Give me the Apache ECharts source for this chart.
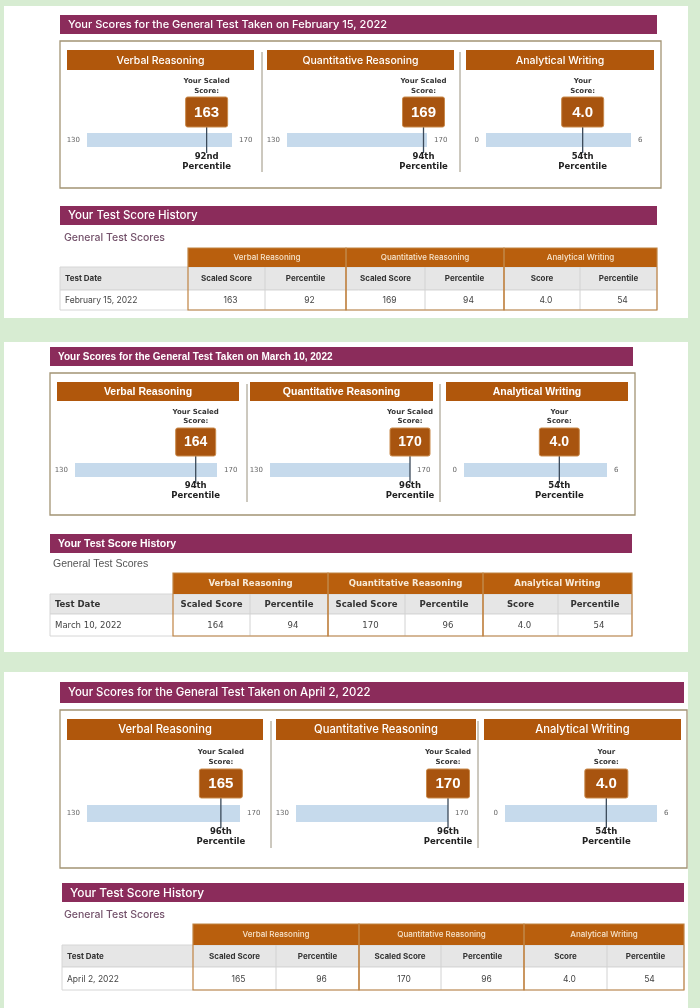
<!DOCTYPE html>
<html>
<head>
<meta charset="utf-8">
<script src="https://cdn.jsdelivr.net/npm/echarts@6/dist/echarts.min.js"></script>
<style>
  html, body { margin: 0; padding: 0; background: #d7ecd2; }
  #chart { width: 700px; height: 1008px; }
</style>
</head>
<body>
<div id="chart"></div>
<script>
// ---- data ----
const testDates = ['February 15, 2022', 'March 10, 2022', 'April 2, 2022']
const sections = ['Verbal Reasoning', 'Quantitative Reasoning', 'Analytical Writing']
const scoreMin = [130, 130, 0]
const scoreMax = [170, 170, 6]
const verbalScores = [163, 164, 165]
const verbalPercentiles = [92, 94, 96]
const quantScores = [169, 170, 170]
const quantPercentiles = [94, 96, 96]
const writingScores = [4.0, 4.0, 4.0]
const writingPercentiles = [54, 54, 54]
const scoreCaptions = ['Your Scaled\nScore:', 'Your Scaled\nScore:', 'Your\nScore:']
const subHeaders = ['Scaled Score', 'Percentile', 'Scaled Score', 'Percentile', 'Score', 'Percentile']

// ---- layout of the three report cards ----
const layouts = [
  {
    card: [4, 6, 684, 312], title: [60, 15, 597, 19], box: [60, 41, 601, 147],
    heads: [[67, 254], [267, 454], [466, 654]], headY: [50, 20], dividers: [262, 460], divY: [52, 172],
    bars: [[87, 232], [287, 427], [486, 631]], barY: [133, 14], markBox: [97, 30, 42], capY: 76, capLH: 10, pctY: 152,
    hist: [60, 206, 597, 19], subY: 238, subX: 64, titleSize: 11, headSize: 10.5,
    cols: [60, 188, 265, 346, 425, 504, 580, 657], rows: [248, 267, 290, 310], style: 'A'
  },
  {
    card: [4, 342, 684, 310], title: [50, 347, 583, 19], box: [50, 373, 585, 142],
    heads: [[57, 239], [250, 433], [446, 628]], headY: [382, 19], dividers: [247, 440], divY: [384, 502],
    bars: [[75, 217], [270, 410], [464, 607]], barY: [463, 14], markBox: [428, 28, 40], capY: 407.5, capLH: 9, pctY: 481,
    hist: [50, 534, 582, 19], subY: 564, subX: 53, titleSize: 10, headSize: 10.5,
    cols: [50, 173, 250, 328, 405, 483, 558, 632], rows: [573, 594, 614, 636], style: 'B'
  },
  {
    card: [4, 672, 684, 336], title: [60, 682, 624, 21], box: [60, 710, 627, 158],
    heads: [[67, 263], [276, 476], [484, 681]], headY: [719, 21], dividers: [271, 478], divY: [721, 848],
    bars: [[87, 240], [296, 448], [505, 657]], barY: [805, 17], markBox: [769, 29, 43], capY: 747, capLH: 10, pctY: 827,
    hist: [62, 883, 622, 19], subY: 915, subX: 64, titleSize: 11.4, headSize: 11.2,
    cols: [62, 193, 276, 359, 441, 524, 607, 684], rows: [924, 945, 967, 990], style: 'A'
  }
]

const fonts = {
  A: { family: 'Inter', titleWeight: 500, headWeight: 500, scoreSize: 15,
       table: 'Inter', thSize: 8, shSize: 8, tdSize: 8.5, subColor: '#74526b', subSize: 10.5, thColor: '#f6e4cc' },
  B: { family: 'Liberation Sans', titleWeight: 'bold', headWeight: 'bold', scoreSize: 14,
       table: '"Liberation Sans Narrow", "DejaVu Sans Condensed", "Liberation Sans"', thSize: 9.5, shSize: 9.5, tdSize: 9.5,
       subColor: '#555', subSize: 10.5, thColor: '#f7ead8' }
}

const ordinal = (n) => {
  const m = n % 100
  if (m >= 11 && m <= 13) return n + 'th'
  return n + ({ 1: 'st', 2: 'nd', 3: 'rd' }[n % 10] || 'th')
}

const scoresFor = (i) => [verbalScores[i], quantScores[i], writingScores[i]]
const percentilesFor = (i) => [verbalPercentiles[i], quantPercentiles[i], writingPercentiles[i]]

const rect = (x, y, w, h, style, z) => ({ type: 'rect', z: z || 1, shape: { x, y, width: w, height: h }, style })
const text = (x, y, str, o) => ({
  type: 'text', x, y, z: 6,
  style: {
    text: str, fill: o.fill || '#333', fontSize: o.size || 9, fontWeight: o.weight || 'normal',
    fontFamily: o.family || 'Inter', align: o.align || 'left', verticalAlign: o.va || 'middle'
  }
})

const graphic = []
layouts.forEach((L, p) => {
  const F = fonts[L.style]
  graphic.push(rect(L.card[0], L.card[1], L.card[2], L.card[3], { fill: '#fff' }, 0))
  // title bar
  graphic.push(rect(L.title[0], L.title[1], L.title[2], L.title[3], { fill: '#8b2c5b' }))
  graphic.push(text(L.title[0] + 8, L.title[1] + L.title[3] / 2 + 0.5,
    'Your Scores for the General Test Taken on ' + testDates[p],
    { fill: '#fff', size: L.titleSize, weight: F.titleWeight, family: F.family }))
  // outer box
  graphic.push(rect(L.box[0], L.box[1], L.box[2], L.box[3], { fill: 'none', stroke: '#a39474', lineWidth: 1.3 }, 2))
  // section headers
  L.heads.forEach((h, s) => {
    graphic.push(rect(h[0], L.headY[0], h[1] - h[0], L.headY[1], { fill: '#b0570c' }, 2))
    graphic.push(text((h[0] + h[1]) / 2, L.headY[0] + L.headY[1] / 2 + 0.5, sections[s],
      { fill: '#fff', size: L.headSize, weight: F.headWeight, family: F.family, align: 'center' }))
  })
  L.dividers.forEach((d) => {
    graphic.push({ type: 'line', z: 2, shape: { x1: d, y1: L.divY[0], x2: d, y2: L.divY[1] }, style: { stroke: '#9a927f', lineWidth: 1 } })
  })
  // history
  graphic.push(rect(L.hist[0], L.hist[1], L.hist[2], L.hist[3], { fill: '#8b2c5b' }))
  graphic.push(text(L.hist[0] + 8, L.hist[1] + L.hist[3] / 2 + 0.5, 'Your Test Score History',
    { fill: '#fff', size: L.titleSize + 0.5, weight: F.titleWeight, family: F.family }))
  graphic.push(text(L.subX, L.subY, 'General Test Scores',
    { fill: F.subColor, size: F.subSize, weight: L.style === 'A' ? 500 : 'normal', family: F.family }))

  const c = L.cols
  const r = L.rows
  // subheader + data rows backgrounds
  graphic.push(rect(c[0], r[1], c[7] - c[0], r[2] - r[1], { fill: '#e6e6e6', stroke: '#d6d6d6', lineWidth: 1 }, 2))
  graphic.push(rect(c[0], r[2], c[7] - c[0], r[3] - r[2], { fill: '#fff', stroke: '#d6d6d6', lineWidth: 1 }, 2))
  for (let k = 2; k <= 6; k += 2) {
    graphic.push({ type: 'line', z: 3, shape: { x1: c[k], y1: r[1], x2: c[k], y2: r[3] }, style: { stroke: '#d2d2d2', lineWidth: 1 } })
  }
  // group headers + outlines
  for (let g = 0; g < 3; g++) {
    const x0 = c[1 + g * 2], x1 = c[3 + g * 2]
    graphic.push(rect(x0, r[0], x1 - x0, r[1] - r[0], { fill: '#b95f0d' }, 3))
    graphic.push(rect(x0, r[0], x1 - x0, r[3] - r[0], { fill: 'none', stroke: '#c08443', lineWidth: 1.2 }, 4))
    graphic.push(text((x0 + x1) / 2, (r[0] + r[1]) / 2 + 0.5, sections[g],
      { fill: F.thColor, size: F.thSize, weight: L.style === 'A' ? 500 : 'bold', family: F.table, align: 'center' }))
  }
  graphic.push(text(c[0] + 5, (r[1] + r[2]) / 2 + 0.5, 'Test Date',
    { fill: '#333', size: F.shSize, weight: 'bold', family: F.table }))
  subHeaders.forEach((h, k) => {
    graphic.push(text((c[k + 1] + c[k + 2]) / 2, (r[1] + r[2]) / 2 + 0.5, h,
      { fill: '#333', size: F.shSize, weight: 'bold', family: F.table, align: 'center' }))
  })
  graphic.push(text(c[0] + 5, (r[2] + r[3]) / 2 + 0.5, testDates[p],
    { fill: '#444', size: F.tdSize, family: F.table }))
  const vals = [verbalScores[p], verbalPercentiles[p], quantScores[p], quantPercentiles[p],
    writingScores[p].toFixed(1), writingPercentiles[p]]
  vals.forEach((v, k) => {
    graphic.push(text((c[k + 1] + c[k + 2]) / 2 + 4, (r[2] + r[3]) / 2 + 0.5, String(v),
      { fill: '#444', size: F.tdSize, family: F.table, align: 'center' }))
  })
})

// ---- score bars: one grid per section, drawn through the axis scales ----
const grids = [], xAxes = [], yAxes = [], series = []
layouts.forEach((L, p) => {
  const F = fonts[L.style]
  const scores = scoresFor(p)
  const pcts = percentilesFor(p)
  L.bars.forEach((b, s) => {
    const idx = grids.length
    grids.push({ left: b[0], width: b[1] - b[0], top: L.barY[0], height: L.barY[1] })
    xAxes.push({ gridIndex: idx, type: 'value', min: scoreMin[s], max: scoreMax[s], show: false })
    yAxes.push({ gridIndex: idx, type: 'value', min: 0, max: 1, show: false })
    series.push({
      type: 'custom', xAxisIndex: idx, yAxisIndex: idx, z: 10, silent: true,
      data: [[scores[s], scoreMin[s], scoreMax[s], pcts[s]]],
      renderItem: (params, api) => {
        const lo = api.coord([api.value(1), 1])
        const hi = api.coord([api.value(2), 0])
        const m = api.coord([api.value(0), 0])[0]
        const mb = L.markBox
        const label = s === 2 ? api.value(0).toFixed(1) : String(api.value(0))
        return {
          type: 'group',
          children: [
            { type: 'rect', shape: { x: lo[0], y: lo[1], width: hi[0] - lo[0], height: hi[1] - lo[1] }, style: { fill: '#c6daec' } },
            { type: 'text', x: lo[0] - 7, y: (lo[1] + hi[1]) / 2, style: { text: String(api.value(1)), fill: '#666', fontSize: 7, fontFamily: 'DejaVu Sans', align: 'right', verticalAlign: 'middle' } },
            { type: 'text', x: hi[0] + 7, y: (lo[1] + hi[1]) / 2, style: { text: String(api.value(2)), fill: '#666', fontSize: 7, fontFamily: 'DejaVu Sans', align: 'left', verticalAlign: 'middle' } },
            { type: 'line', shape: { x1: m, y1: mb[0] + mb[1], x2: m, y2: hi[1] + 6 }, style: { stroke: '#3b4a5a', lineWidth: 1.3 } },
            { type: 'rect', shape: { x: m - mb[2] / 2, y: mb[0], width: mb[2], height: mb[1], r: 2 }, style: { fill: '#a8540f', stroke: '#c98a4c', lineWidth: 1 } },
            { type: 'text', x: m, y: mb[0] + mb[1] / 2 + 0.5, style: { text: label, fill: '#fff', fontSize: F.scoreSize, fontWeight: 'bold', fontFamily: 'Liberation Sans', align: 'center', verticalAlign: 'middle' } },
            { type: 'text', x: m, y: L.capY, style: { text: scoreCaptions[s], fill: '#333', fontSize: 7, fontWeight: 'bold', fontFamily: 'DejaVu Sans', align: 'center', verticalAlign: 'top', lineHeight: L.capLH } },
            { type: 'text', x: m, y: L.pctY, style: { text: ordinal(api.value(3)) + '\nPercentile', fill: '#222', fontSize: 8.5, fontWeight: 'bold', fontFamily: 'DejaVu Sans', align: 'center', verticalAlign: 'top', lineHeight: 10 } }
          ]
        }
      }
    })
  })
})

const chart = echarts.init(document.getElementById('chart'))
chart.setOption({
  backgroundColor: '#d7ecd2',
  animation: false,
  grid: grids,
  xAxis: xAxes,
  yAxis: yAxes,
  graphic: { elements: graphic },
  series: series
})
</script>
</body>
</html>
